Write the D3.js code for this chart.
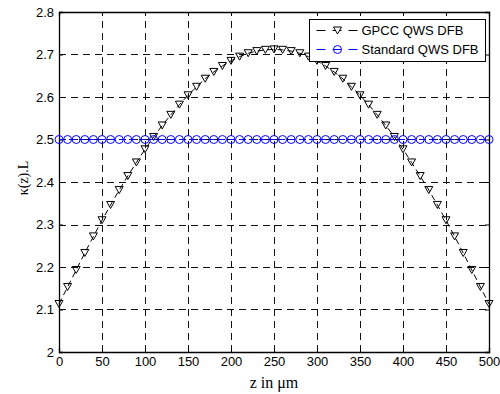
<!DOCTYPE html>
<html>
<head>
<meta charset="utf-8">
<script src="https://cdn.jsdelivr.net/npm/d3@7"></script>
<style>
  body { margin: 0; background: #fff; }
  .tick text { font-family: "Liberation Sans", Arial, sans-serif; font-size: 13px; fill: #000; }
  .legendText { font-family: "Liberation Sans", Arial, sans-serif; font-size: 13px; fill: #000; }
</style>
</head>
<body>
<div id="chart"></div>
<script>
// z positions (um)
var zValues = [0, 10, 20, 30, 40, 50, 60, 70, 80, 90, 100, 110, 120, 130, 140, 150, 160, 170, 180, 190,
  200, 210, 220, 230, 240, 250, 260, 270, 280, 290, 300, 310, 320, 330, 340, 350, 360, 370, 380, 390,
  400, 410, 420, 430, 440, 450, 460, 470, 480, 490, 500];

// kappa(z).L, GPCC QWS DFB
var gpccValues = [2.113, 2.153, 2.193, 2.233, 2.272, 2.310, 2.346, 2.381, 2.414, 2.446,
  2.477, 2.506, 2.533, 2.558, 2.582, 2.604, 2.624, 2.643, 2.659, 2.673,
  2.685, 2.695, 2.703, 2.708, 2.711, 2.712, 2.711, 2.708, 2.703, 2.695,
  2.685, 2.673, 2.659, 2.643, 2.624, 2.604, 2.582, 2.558, 2.533, 2.506,
  2.477, 2.446, 2.414, 2.381, 2.346, 2.310, 2.272, 2.233, 2.193, 2.153, 2.113];

// kappa(z).L, Standard QWS DFB
var standardValues = [2.5, 2.5, 2.5, 2.5, 2.5, 2.5, 2.5, 2.5, 2.5, 2.5,
  2.5, 2.5, 2.5, 2.5, 2.5, 2.5, 2.5, 2.5, 2.5, 2.5,
  2.5, 2.5, 2.5, 2.5, 2.5, 2.5, 2.5, 2.5, 2.5, 2.5,
  2.5, 2.5, 2.5, 2.5, 2.5, 2.5, 2.5, 2.5, 2.5, 2.5,
  2.5, 2.5, 2.5, 2.5, 2.5, 2.5, 2.5, 2.5, 2.5, 2.5, 2.5];

var xTicks = [0, 50, 100, 150, 200, 250, 300, 350, 400, 450, 500];
var yTicks = [2, 2.1, 2.2, 2.3, 2.4, 2.5, 2.6, 2.7, 2.8];
var seriesNames = ["GPCC QWS DFB", "Standard QWS DFB"];

var svgWidth = 500;
var svgHeight = 394;
var margin = { top: 12, right: 11, bottom: 42, left: 59 };
var width = svgWidth - margin.left - margin.right;
var height = svgHeight - margin.top - margin.bottom;
var serif = '"Liberation Serif", "Times New Roman", serif';

var svg = d3.select("#chart")
  .append("svg")
  .attr("width", svgWidth)
  .attr("height", svgHeight);

var chartGroup = svg.append("g")
  .attr("transform", `translate(${margin.left}, ${margin.top})`);

var xScale = d3.scaleLinear().domain([0, 500]).range([0, width]);
var yScale = d3.scaleLinear().domain([2, 2.8]).range([height, 0]);

// grid
var grid = chartGroup.append("g")
  .attr("stroke", "#111")
  .attr("stroke-width", 1)
  .attr("stroke-dasharray", "7,5")
  .attr("shape-rendering", "crispEdges");

grid.selectAll(".vgrid")
  .data(xTicks.slice(1, -1))
  .enter().append("line")
  .attr("x1", d => Math.round(xScale(d)) + 0.5)
  .attr("x2", d => Math.round(xScale(d)) + 0.5)
  .attr("y1", height)
  .attr("y2", 0);

grid.selectAll(".hgrid")
  .data(yTicks.slice(1, -1))
  .enter().append("line")
  .attr("y1", d => Math.round(yScale(d)) + 0.5)
  .attr("y2", d => Math.round(yScale(d)) + 0.5)
  .attr("x1", 0)
  .attr("x2", width);

// axes, ticks pointing inward like matlab
var bottomAxis = d3.axisBottom(xScale).tickValues(xTicks).tickSize(-4).tickPadding(5).tickFormat(d3.format("d"));
var leftAxis = d3.axisLeft(yScale).tickValues(yTicks).tickSize(-4).tickPadding(5).tickFormat(d => d === 2 ? "2" : d3.format(".1f")(d));
var topAxis = d3.axisTop(xScale).tickValues(xTicks).tickSize(-4).tickFormat("");
var rightAxis = d3.axisRight(yScale).tickValues(yTicks).tickSize(-4).tickFormat("");

chartGroup.append("g").attr("transform", `translate(0, ${height})`).call(bottomAxis);
chartGroup.append("g").call(leftAxis);
chartGroup.append("g").call(topAxis);
chartGroup.append("g").attr("transform", `translate(${width}, 0)`).call(rightAxis);

chartGroup.selectAll(".domain").attr("stroke", "#000").attr("stroke-width", 1.3);
chartGroup.selectAll(".tick line").attr("stroke", "#000");
svg.selectAll("g[font-family]").attr("font-family", null).attr("font-size", null);

// series
var gpccData = zValues.map((z, i) => ({ z: z, k: gpccValues[i] }));
var standardData = zValues.map((z, i) => ({ z: z, k: standardValues[i] }));

var line = d3.line().x(d => xScale(d.z)).y(d => yScale(d.k));

var tri = "M-4,-3.5L4,-3.5L0,3.5Z";

var plot = chartGroup.append("g");

plot.append("path")
  .datum(gpccData)
  .attr("d", line)
  .attr("fill", "none")
  .attr("stroke", "#000")
  .attr("stroke-dasharray", "6,4");

plot.selectAll(".gpcc")
  .data(gpccData)
  .enter().append("path")
  .attr("d", tri)
  .attr("transform", d => `translate(${xScale(d.z)}, ${yScale(d.k)})`)
  .attr("fill", "none")
  .attr("stroke", "#000")
  .attr("stroke-width", 1);

plot.append("path")
  .datum(standardData)
  .attr("d", line)
  .attr("fill", "none")
  .attr("stroke", "#0000ff")
  .attr("stroke-dasharray", "6,4");

plot.selectAll(".std")
  .data(standardData)
  .enter().append("circle")
  .attr("cx", d => xScale(d.z))
  .attr("cy", d => yScale(d.k))
  .attr("r", 4)
  .attr("fill", "none")
  .attr("stroke", "#0000ff")
  .attr("stroke-width", 1);

// axis labels
chartGroup.append("text")
  .style("font-family", serif)
  .style("font-size", "16px")
  .attr("fill", "#000")
  .attr("text-anchor", "middle")
  .attr("x", width / 2)
  .attr("y", height + 36)
  .text("z in \u03bcm");

chartGroup.append("text")
  .style("font-family", serif)
  .style("font-size", "14px")
  .attr("fill", "#000")
  .attr("text-anchor", "middle")
  .attr("transform", `translate(${-31}, ${height / 2 - 4}) rotate(-90)`)
  .text("\u03ba(z).L");

// legend
var legend = svg.append("g").attr("transform", "translate(309.5, 19.5)");
legend.append("rect")
  .attr("width", 176)
  .attr("height", 42)
  .attr("fill", "#fff")
  .attr("stroke", "#000");

var rows = legend.selectAll(".row")
  .data(seriesNames)
  .enter().append("g")
  .attr("transform", (d, i) => `translate(0, ${11 + i * 19})`);

rows.append("line")
  .attr("x1", 7).attr("x2", 49)
  .attr("y1", 0).attr("y2", 0)
  .attr("stroke", (d, i) => i === 0 ? "#000" : "#0000ff")
  .attr("stroke-dasharray", "9,7");

rows.each(function(d, i) {
  var g = d3.select(this);
  if (i === 0) {
    g.append("path").attr("d", tri).attr("transform", "translate(28, 0)")
      .attr("fill", "#fff").attr("stroke", "#000");
  } else {
    g.append("circle").attr("cx", 28).attr("cy", 0).attr("r", 4)
      .attr("fill", "#fff").attr("stroke", "#0000ff");
    g.append("line").attr("x1", 24).attr("x2", 32).attr("y1", 0).attr("y2", 0).attr("stroke", "#0000ff");
  }
});

rows.append("text")
  .attr("class", "legendText")
  .attr("x", 52)
  .attr("y", 0)
  .attr("dy", "0.35em")
  .text(d => d);
</script>
</body>
</html>
